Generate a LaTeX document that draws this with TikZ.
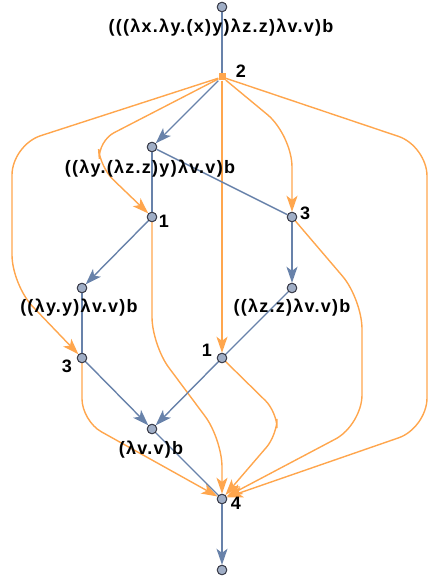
\documentclass[tikz,border=0pt]{standalone}
\usepackage{fontspec}
\setmainfont{Liberation Sans}[LetterSpace=7]
\usetikzlibrary{arrows.meta}
\definecolor{eblue}{RGB}{104,130,170}
\definecolor{eorange}{RGB}{255,166,77}
\definecolor{vfill}{RGB}{160,174,198}
\definecolor{vline}{RGB}{60,62,75}
\tikzset{
  vtx/.style={circle,draw=vline,fill=vfill,line width=0.9pt,minimum size=9.5pt,inner sep=0pt},
  sqv/.style={rectangle,fill=eorange,minimum size=7pt,inner sep=0pt},
  lbl/.style={font=\fontsize{18}{21}\selectfont\bfseries,inner sep=0pt,anchor=center},
  be/.style={draw=eblue,line width=1.4pt},
  bea/.style={be,-{Stealth[length=16pt,width=11pt,inset=4pt]}},
  oe/.style={draw=eorange,line width=1.4pt,-{Stealth[length=16pt,width=11pt,inset=4pt]}},
}
\begin{document}
\begin{tikzpicture}[x=1pt,y=-1pt]
\useasboundingbox (0,0) rectangle (428,580);
% vertices
\node[vtx] (top) at (222,7) {};
\node[sqv] (n2) at (222,77) {};
\node[vtx] (A) at (152,147) {};
\node[vtx] (B) at (152,217) {};
\node[vtx] (C) at (292,217) {};
\node[vtx] (D) at (82,288) {};
\node[vtx] (E) at (292,288) {};
\node[vtx] (F) at (82,358) {};
\node[vtx] (G) at (222,358) {};
\node[vtx] (H) at (152,429) {};
\node[vtx] (I) at (222,499) {};
\node[vtx] (bot) at (222,570) {};
% orange edges
\draw[oe,rounded corners=18pt] (n2) -- (98,141) -- (100,167) -- (B);
\draw[oe,rounded corners=32pt] (n2) -- (292,135) -- (C);
\draw[oe] (n2) -- (G);
\draw[oe,rounded corners=30pt] (n2) -- (12,145) -- (12,285) -- (F);
\draw[oe,rounded corners=30pt] (n2) -- (427,146) -- (427,428) -- (I);
\draw[oe,rounded corners=28pt] (B) -- (152,345) -- (222,439) -- (I);
\draw[oe,rounded corners=16pt] (G) -- (277,412) -- (277,435) -- (I);
\draw[oe,rounded corners=30pt] (C) -- (362,299) -- (362,425) -- (I);
\draw[oe,rounded corners=22pt] (F) -- (82,421) -- (I);
% blue edges
\draw[be] (top) -- (n2);
\draw[bea] (n2) -- (A);
\draw[be] (A) -- (B);
\draw[be] (A) -- (C);
\draw[bea] (B) -- (D);
\draw[bea] (C) -- (E);
\draw[be] (D) -- (F);
\draw[be] (E) -- (G);
\draw[bea] (F) -- (H);
\draw[bea] (G) -- (H);
\draw[be] (H) -- (I);
\draw[bea] (I) -- (bot);
% redraw vertices on top
\foreach \v in {top,A,B,C,D,E,F,G,H,I,bot} {\node[vtx] at (\v) {};}
\node[sqv] at (n2) {};
% labels
\node[lbl] (ltop) at (221,28) {(((λx.λy.(x)y)λz.z)λv.v)b};
\node[lbl] (l2) at (241,71) {2};
\node[lbl] (lA) at (150,169) {((λy.(λz.z)y)λv.v)b};
\node[lbl] (lB) at (164,221) {1};
\node[lbl] (lC) at (305,213) {3};
\node[lbl] (lD) at (79,308) {((λy.y)λv.v)b};
\node[lbl] (lE) at (292,308) {((λz.z)λv.v)b};
\node[lbl] (lF) at (67,366) {3};
\node[lbl] (lG) at (207,350) {1};
\node[lbl] (lH) at (151,450) {(λv.v)b};
\node[lbl] (lI) at (236,503) {4};
\end{tikzpicture}
\end{document}
